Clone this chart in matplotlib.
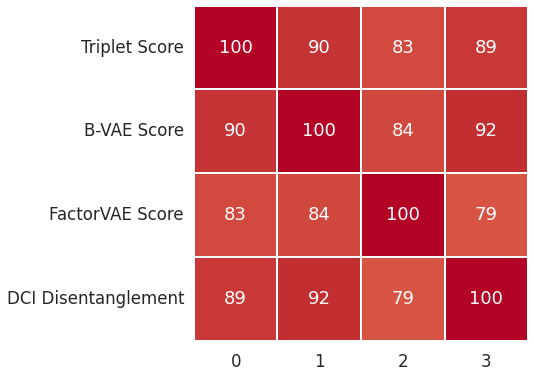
import matplotlib
matplotlib.use("Agg")
import matplotlib.pyplot as plt
import seaborn as sns
import numpy as np

row_labels = ["Triplet Score", "B-VAE Score", "FactorVAE Score", "DCI Disentanglement"]
col_labels = ["0", "1", "2", "3"]
values = [
    [100, 90, 83, 89],
    [90, 100, 84, 92],
    [83, 84, 100, 79],
    [89, 92, 79, 100],
]

sns.set_theme(style="white")
plt.rcParams['font.family'] = ['DejaVu Sans']

fig = plt.figure(figsize=(5.34, 3.76), dpi=100)
ax = fig.add_axes([0.363, 0.094, 0.626, 0.891])
sns.heatmap(np.array(values), ax=ax, cmap="coolwarm", vmin=-100, vmax=100,
            annot=True, fmt="d", annot_kws={"size": 13, "color": "white"},
            linewidths=1.2, linecolor="white", cbar=False,
            xticklabels=col_labels, yticklabels=row_labels)
ax.tick_params(axis='both', labelsize=12, length=0)
ax.tick_params(axis='y', pad=7)
ax.tick_params(axis='x', pad=9)
plt.setp(ax.get_yticklabels(), rotation=0)
plt.setp(ax.get_xticklabels(), rotation=0)
fig.savefig("out.png", dpi=100)
